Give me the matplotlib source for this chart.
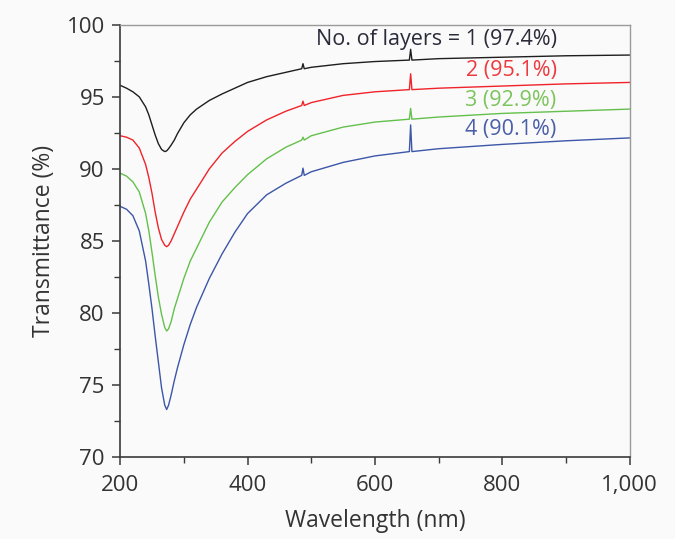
import numpy as np
import matplotlib.pyplot as plt
from matplotlib.ticker import MultipleLocator, FuncFormatter

# wavelength grid (nm), incl. the small spikes near 487 and 656 nm
wavelength = [200, 210, 220, 230, 240, 245, 250, 255, 260, 265, 270, 273, 276, 280, 285,
              290, 300, 310, 320, 340, 360, 380, 400, 430, 460, 485, 487, 489, 500, 550,
              600, 654, 656, 658, 700, 800, 900, 1000]

t_1layer = [95.8, 95.6, 95.35, 95.0, 94.3, 93.75, 93.05, 92.35, 91.75, 91.35, 91.2, 91.25, 91.4, 91.65, 92.0,
            92.45, 93.2, 93.75, 94.15, 94.75, 95.2, 95.6, 96.0, 96.4, 96.7, 96.95, 97.3, 96.95, 97.05, 97.3,
            97.45, 97.55, 98.3, 97.55, 97.65, 97.75, 97.85, 97.9]
t_2layer = [92.3, 92.2, 92.0, 91.45, 90.3, 89.4, 88.3, 87.0, 85.9, 85.1, 84.7, 84.6, 84.7, 85.0, 85.5,
            86.0, 87.0, 87.9, 88.6, 90.0, 91.1, 91.9, 92.6, 93.4, 94.0, 94.4, 94.7, 94.4, 94.6, 95.1,
            95.35, 95.5, 96.6, 95.5, 95.6, 95.75, 95.9, 96.0]
t_3layer = [89.7, 89.5, 89.1, 88.4, 86.9, 85.7, 84.2, 82.6, 81.1, 79.9, 79.0, 78.75, 78.9, 79.4, 80.3,
            81.0, 82.4, 83.6, 84.5, 86.3, 87.7, 88.7, 89.6, 90.7, 91.5, 92.0, 92.2, 92.0, 92.3, 92.9,
            93.25, 93.45, 94.2, 93.45, 93.6, 93.85, 94.0, 94.15]
t_4layer = [87.4, 87.2, 86.75, 85.7, 83.6, 82.0, 80.3, 78.4, 76.6, 74.8, 73.6, 73.3, 73.6, 74.3, 75.3,
            76.2, 77.8, 79.2, 80.4, 82.4, 84.1, 85.6, 86.9, 88.2, 89.0, 89.55, 90.05, 89.55, 89.8, 90.45,
            90.9, 91.2, 93.05, 91.2, 91.4, 91.7, 91.95, 92.15]

labels = ['No. of layers = 1 (97.4%)', '2 (95.1%)', '3 (92.9%)', '4 (90.1%)']
label_y = [98.95, 96.8, 94.75, 92.7]
line_colors = ['#1e1e1e', '#f0232a', '#64c04c', '#3c56a8']
text_colors = ['#2b2b3a', '#ee3a3f', '#7cc45c', '#4a5fa8']

plt.rcParams['font.family'] = ['Open Sans', 'DejaVu Sans']
bg = '#fafafa'

fig = plt.figure(figsize=(6.75, 5.39), dpi=100, facecolor=bg)
ax = fig.add_axes([0.178, 0.152, 0.755, 0.802], facecolor=bg)

for series, c in zip([t_1layer, t_2layer, t_3layer, t_4layer], line_colors):
    ax.plot(wavelength, series, color=c, lw=1.0)

for txt, y, c in zip(labels, label_y, text_colors):
    ax.text(885, y, txt, color=c, fontsize=15.5, ha='right', va='center')

ax.set_xlim(200, 1000)
ax.set_ylim(70, 100)
ax.xaxis.set_major_locator(MultipleLocator(200))
ax.xaxis.set_minor_locator(MultipleLocator(100))
ax.yaxis.set_major_locator(MultipleLocator(5))
ax.yaxis.set_minor_locator(MultipleLocator(2.5))
ax.xaxis.set_major_formatter(FuncFormatter(lambda v, p: f'{int(v):,}'))

ax.set_xlabel('Wavelength (nm)', fontsize=16.5, color='#333333', labelpad=9)
ax.set_ylabel('Transmittance (%)', fontsize=16.5, color='#333333', labelpad=8)

for side in ['left', 'bottom']:
    ax.spines[side].set_color('#3a3a3a')
    ax.spines[side].set_linewidth(1.2)
for side in ['top', 'right']:
    ax.spines[side].set_color('#9a9a9a')
    ax.spines[side].set_linewidth(1.0)

ax.tick_params(which='major', direction='out', length=6, width=1.1, color='#3a3a3a',
               labelsize=16, labelcolor='#333333', pad=5, top=False, right=False)
ax.tick_params(axis='x', which='major', pad=7)
ax.tick_params(which='minor', direction='out', length=4, width=1.0, color='#3a3a3a',
               top=False, right=False)

fig.savefig('out.png', dpi=100, facecolor=bg)
